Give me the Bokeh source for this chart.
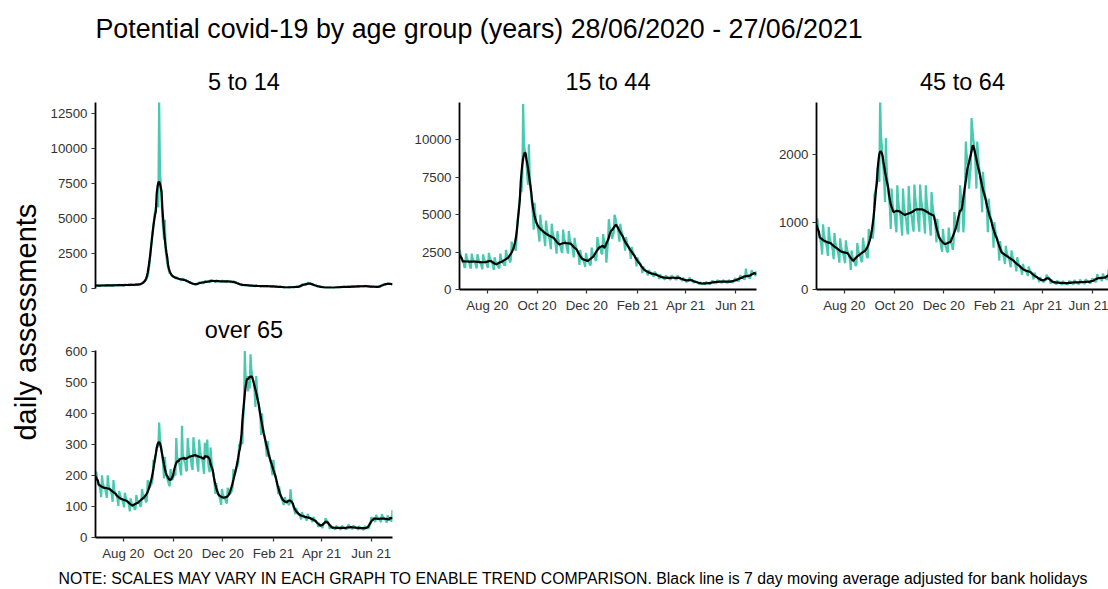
import numpy as np
import pandas as pd
from math import pi
from bokeh.plotting import figure
from bokeh.layouts import column, row
from bokeh.models import Range1d, FixedTicker, Label, ColumnDataSource
from bokeh.embed import file_html
from bokeh.resources import INLINE

# ---------------- data ----------------
START_DATE = "2020-06-28"
END_DATE = "2021-06-27"
TITLE = "Potential covid-19 by age group (years) 28/06/2020 - 27/06/2021"
Y_LABEL = "daily assessments"
NOTE = ("NOTE: SCALES MAY VARY IN EACH GRAPH TO ENABLE TREND COMPARISON. "
        "Black line is 7 day moving average adjusted for bank holidays")
PANEL_TITLES = ["5 to 14", "15 to 44", "45 to 64", "over 65"]
X_TICK_DATES = ["2020-08-01", "2020-10-01", "2020-12-01", "2021-02-01", "2021-04-01", "2021-06-01"]
X_TICK_LABELS = ["Aug 20", "Oct 20", "Dec 20", "Feb 21", "Apr 21", "Jun 21"]
Y_TICKS_5_14 = [0, 2500, 5000, 7500, 10000, 12500]
Y_TICKS_15_44 = [0, 2500, 5000, 7500, 10000]
Y_TICKS_45_64 = [0, 1000, 2000]
Y_TICKS_65 = [0, 100, 200, 300, 400, 500, 600]
Y_MAX = [13270, 12500, 2780, 602]

# daily values, one row per week (Sun..Sat), last value = 27/06/2021
AGE_5_14 = [
    190, 235, 220, 215, 210, 205, 195,
    195, 240, 225, 220, 215, 210, 200,
    200, 245, 230, 225, 220, 215, 205,
    207, 258, 242, 235, 230, 225, 214,
    216, 269, 252, 245, 240, 235, 223,
    225, 280, 263, 255, 250, 245, 232,
    234, 291, 273, 265, 260, 255, 242,
    250, 310, 290, 285, 280, 275, 265,
    320, 380, 400, 440, 480, 540, 620,
    750, 900, 1200, 1700, 2300, 3000, 3500,
    4000, 4500, 5000, 5500, 5800, 6000, 6000,
    5800, 13300, 8500, 7500, 6200, 5000, 4200,
    3500, 4900, 2700, 2200, 1800, 1500, 1250,
    1050, 1100, 950, 900, 850, 820, 780,
    700, 820, 760, 720, 690, 670, 640,
    560, 700, 660, 640, 620, 600, 560,
    500, 560, 480, 440, 420, 400, 380,
    330, 330, 310, 300, 300, 300, 290,
    330, 450, 430, 420, 410, 400, 370,
    420, 540, 510, 490, 480, 470, 440,
    480, 610, 570, 550, 540, 530, 500,
    470, 585, 550, 530, 520, 510, 480,
    460, 570, 540, 520, 510, 500, 470,
    450, 560, 525, 510, 500, 490, 465,
    420, 520, 480, 450, 430, 400, 360,
    320, 340, 310, 290, 270, 230, 250,
    240, 260, 250, 245, 240, 210, 230,
    190, 225, 210, 205, 200, 195, 185,
    162, 202, 189, 184, 180, 176, 167,
    153, 190, 179, 173, 170, 167, 158,
    144, 179, 168, 163, 160, 157, 149,
    126, 157, 147, 143, 140, 137, 130,
    99, 123, 116, 112, 110, 108, 102,
    65, 78, 73, 71, 70, 68, 65,
    81, 101, 95, 92, 90, 88, 84,
    108, 134, 126, 122, 120, 118, 112,
    200, 300, 290, 280, 270, 260, 250,
    320, 420, 380, 360, 350, 340, 310,
    280, 300, 240, 220, 200, 190, 170,
    150, 150, 130, 120, 110, 90, 95,
    70, 55, 65, 60, 58, 56, 55,
    50, 62, 58, 56, 55, 54, 51,
    70, 90, 85, 82, 80, 78, 74,
    99, 123, 116, 112, 110, 108, 102,
    108, 120, 135, 125, 120, 118, 112,
    126, 157, 147, 143, 140, 137, 130,
    144, 179, 168, 163, 160, 157, 149,
    149, 185, 173, 168, 165, 162, 153,
    125, 120, 140, 135, 130, 128, 122,
    108, 134, 126, 122, 120, 118, 112,
    200, 250, 260, 270, 280, 290, 300,
    320, 370, 350, 340, 330, 320, 300,
    290,
]

AGE_15_44 = [
    2650, 2450, 2150, 2000, 1850, 1800, 1500,
    1450, 2400, 2150, 1950, 1850, 1800, 1500,
    1400, 2400, 2100, 1950, 1850, 1800, 1600,
    1400, 2350, 2100, 1900, 1800, 1750, 1550,
    1350, 2350, 2050, 1900, 1800, 1750, 1550,
    1450, 2450, 2150, 2000, 1900, 1800, 1600,
    1300, 2150, 1900, 1750, 1650, 1600, 1450,
    1450, 2400, 2100, 1950, 1800, 1750, 1600,
    1650, 2650, 2350, 2200, 2050, 2000, 1800,
    2000, 3200, 2900, 2800, 2750, 2800, 2600,
    3400, 4600, 5000, 5600, 6200, 6800, 6500,
    7500, 12400, 9800, 9300, 9000, 8600, 7600,
    7000, 9700, 7800, 6900, 6200, 5700, 5000,
    4000, 5800, 5000, 4600, 4300, 4100, 3700,
    3200, 5000, 4400, 4100, 3900, 3700, 3400,
    2900, 4600, 4100, 3800, 3600, 3500, 3100,
    2700, 4400, 3900, 3600, 3400, 3300, 2900,
    2400, 3900, 3400, 3100, 2950, 2850, 2550,
    2450, 4000, 3500, 3250, 3050, 2950, 2650,
    2400, 3900, 3450, 3200, 3000, 2900, 2600,
    2150, 3450, 3000, 2800, 2650, 2550, 2300,
    1650, 2650, 2300, 2150, 2000, 1950, 1750,
    1500, 2450, 2150, 2000, 1850, 1800, 1600,
    1700, 2800, 2450, 2300, 2200, 2100, 1900,
    2200, 3500, 3100, 2900, 2750, 2700, 2400,
    2400, 3700, 3300, 3100, 2900, 1800, 2500,
    3200, 4700, 4200, 4000, 3800, 3400, 3600,
    3800, 5000, 4800, 4500, 4300, 4100, 3700,
    3200, 4400, 4000, 3800, 3600, 3400, 3100,
    2600, 3500, 3200, 3000, 2900, 2800, 2500,
    2050, 2850, 2600, 2450, 2300, 2250, 2000,
    1550, 2150, 1950, 1850, 1750, 1700, 1500,
    1100, 1550, 1400, 1350, 1250, 1250, 1100,
    950, 1300, 1200, 1150, 1050, 1050, 950,
    850, 1200, 1100, 1050, 950, 950, 850,
    700, 1000, 900, 850, 800, 780, 700,
    660, 950, 850, 800, 760, 740, 670,
    680, 950, 860, 820, 770, 750, 680,
    660, 940, 850, 800, 760, 740, 670,
    560, 780, 710, 680, 640, 500, 560,
    540, 600, 800, 700, 640, 600, 540,
    430, 600, 550, 520, 490, 470, 430,
    350, 480, 440, 410, 390, 380, 350,
    360, 510, 460, 430, 410, 400, 360,
    410, 470, 600, 520, 480, 460, 410,
    450, 630, 570, 540, 510, 490, 450,
    450, 630, 570, 540, 510, 490, 450,
    460, 640, 580, 550, 520, 500, 460,
    540, 650, 760, 660, 620, 600, 540,
    680, 960, 870, 820, 770, 750, 680,
    730, 1400, 950, 880, 830, 800, 720,
    900, 1300, 1150, 1100, 1050, 1000, 900,
    1250,
]

AGE_45_64 = [
    1050, 1050, 900, 830, 770, 730, 640,
    520, 970, 830, 760, 700, 670, 590,
    500, 930, 790, 720, 680, 640, 570,
    450, 840, 710, 650, 610, 580, 510,
    400, 760, 640, 590, 550, 520, 460,
    390, 730, 620, 570, 530, 500, 440,
    290, 580, 490, 450, 420, 400, 350,
    370, 690, 590, 540, 500, 470, 420,
    410, 770, 660, 600, 560, 530, 470,
    480, 900, 820, 790, 780, 800, 760,
    900, 1400, 1450, 1500, 1650, 1800, 1750,
    1600, 2850, 2300, 2150, 1900, 1800, 1600,
    1300, 2250, 1800, 1600, 1450, 1350, 1200,
    900, 1500, 1300, 1200, 1150, 1100, 950,
    850, 1550, 1350, 1230, 1150, 1080, 950,
    800, 1500, 1280, 1170, 1090, 1030, 900,
    820, 1540, 1310, 1200, 1120, 1060, 930,
    860, 1560, 1380, 1260, 1180, 1120, 980,
    860, 1560, 1380, 1260, 1180, 1120, 980,
    830, 1550, 1320, 1210, 1130, 1070, 940,
    800, 1450, 1280, 1170, 1090, 1030, 910,
    700, 1050, 880, 800, 740, 700, 620,
    560, 900, 760, 700, 650, 620, 560,
    560, 920, 800, 730, 690, 660, 590,
    700, 1150, 1000, 950, 920, 900, 850,
    1000, 1550, 1400, 1300, 1250, 850, 1050,
    1500, 2200, 2000, 1900, 1800, 1500, 1700,
    1800, 2550, 2400, 2250, 2150, 2050, 1800,
    1500, 2200, 2000, 1850, 1750, 1650, 1450,
    1150, 1750, 1580, 1450, 1380, 1320, 1150,
    850, 1350, 1200, 1100, 1050, 1000, 880,
    620, 1000, 880, 820, 780, 740, 650,
    430, 720, 620, 570, 540, 520, 450,
    380, 650, 560, 510, 480, 460, 400,
    330, 580, 500, 450, 420, 400, 350,
    270, 480, 410, 370, 350, 330, 290,
    220, 380, 330, 300, 280, 270, 240,
    200, 340, 300, 270, 250, 240, 210,
    150, 250, 220, 195, 185, 175, 155,
    110, 185, 160, 145, 138, 110, 120,
    130, 140, 220, 190, 180, 170, 150,
    85, 145, 125, 115, 108, 102, 90,
    75, 135, 115, 105, 98, 93, 82,
    70, 128, 110, 100, 93, 88, 78,
    75, 100, 130, 110, 100, 95, 85,
    78, 142, 120, 110, 103, 98, 86,
    80, 148, 126, 115, 108, 102, 90,
    85, 155, 132, 120, 113, 107, 94,
    100, 120, 165, 145, 135, 128, 112,
    125, 230, 195, 178, 167, 158, 140,
    130, 236, 200, 184, 172, 163, 145,
    160, 297, 253, 231, 216, 205, 180,
    230,
]

AGE_65 = [
    210, 210, 190, 178, 168, 165, 150,
    130, 200, 175, 165, 157, 155, 140,
    128, 200, 170, 160, 152, 150, 136,
    115, 185, 154, 144, 137, 136, 123,
    102, 150, 138, 129, 123, 121, 110,
    97, 144, 130, 122, 116, 114, 104,
    84, 126, 113, 106, 101, 100, 90,
    92, 137, 123, 115, 110, 109, 99,
    105, 156, 141, 132, 125, 124, 113,
    120, 185, 165, 160, 165, 170, 175,
    190, 250, 240, 250, 270, 290, 300,
    290, 370, 320, 300, 280, 260, 230,
    190, 260, 220, 200, 190, 180, 170,
    165, 220, 190, 185, 190, 200, 210,
    200, 320, 260, 250, 240, 235, 215,
    200, 360, 270, 255, 245, 240, 215,
    215, 320, 285, 268, 255, 252, 228,
    217, 323, 292, 273, 260, 257, 233,
    212, 315, 284, 266, 253, 250, 227,
    205, 305, 275, 258, 315, 243, 220,
    210, 290, 250, 230, 210, 195, 170,
    140, 175, 155, 145, 135, 130, 120,
    105, 156, 141, 132, 125, 124, 113,
    110, 160, 145, 140, 140, 145, 150,
    160, 220, 200, 205, 215, 225, 230,
    240, 300, 290, 310, 330, 300, 380,
    420, 600, 510, 500, 520, 470, 500,
    480, 590, 540, 520, 510, 500, 470,
    420, 520, 470, 445, 430, 415, 390,
    330, 400, 360, 340, 325, 315, 290,
    260, 310, 280, 265, 250, 240, 220,
    200, 250, 220, 205, 190, 180, 165,
    140, 165, 145, 135, 125, 120, 110,
    105, 130, 120, 115, 112, 110, 105,
    110, 155, 125, 115, 105, 95, 85,
    75, 95, 85, 80, 75, 72, 66,
    58, 82, 74, 70, 66, 65, 60,
    54, 76, 69, 65, 62, 61, 55,
    50, 66, 60, 56, 53, 50, 45,
    34, 46, 42, 39, 37, 30, 40,
    48, 45, 62, 56, 52, 50, 44,
    27, 40, 35, 33, 31, 30, 28,
    26, 38, 34, 32, 30, 30, 27,
    26, 38, 34, 32, 30, 30, 27,
    28, 30, 42, 36, 33, 32, 29,
    27, 39, 35, 33, 31, 31, 28,
    25, 37, 33, 31, 29, 29, 26,
    25, 37, 33, 31, 30, 30, 30,
    40, 45, 65, 62, 60, 60, 55,
    50, 73, 66, 62, 59, 58, 53,
    50, 75, 67, 63, 60, 59, 54,
    48, 71, 64, 60, 57, 56, 51,
    88,
]

SERIES = [AGE_5_14, AGE_15_44, AGE_45_64, AGE_65]
Y_TICKS = [Y_TICKS_5_14, Y_TICKS_15_44, Y_TICKS_45_64, Y_TICKS_65]

# ---------------- styling ----------------
FONT = "Liberation Sans"
TEAL = "#48C9B0"
TICK_COLOR = "#333333"

dates = pd.date_range(START_DATE, END_DATE, freq="D")
x_ms = dates.values.astype("datetime64[ms]").astype(np.int64).astype(float)
for s in SERIES:
    assert len(s) == len(dates), len(s)


def to_ms(d):
    return float(np.datetime64(d, "ms").astype(np.int64))


def style_axis(ax):
    ax.axis_line_color = "black"
    ax.axis_line_width = 1.8
    ax.major_tick_line_color = TICK_COLOR
    ax.major_tick_line_width = 1.2
    ax.major_tick_out = 4
    ax.major_tick_in = 0
    ax.minor_tick_line_color = None
    ax.major_label_text_font = FONT
    ax.major_label_text_font_size = "13.3px"
    ax.major_label_text_color = TICK_COLOR
    ax.major_label_standoff = 4


def panel(i, width, height, bl, br, bt, bb, show_x=True, frac=1.0):
    vals = SERIES[i]
    ma = pd.Series(vals, dtype=float).rolling(7, center=True, min_periods=4).mean()
    src = ColumnDataSource(dict(x=x_ms, y=np.array(vals, dtype=float), ma=ma.values))
    x0, x1 = x_ms[0], x_ms[-1]
    p = figure(width=width, height=height, output_backend="svg", toolbar_location=None,
               x_range=Range1d(x0, x0 + (x1 - x0) * frac), y_range=Range1d(0, Y_MAX[i]),
               min_border_left=bl, min_border_right=br, min_border_top=bt, min_border_bottom=bb,
               x_axis_location="below" if show_x else None, y_axis_location="left",
               title=PANEL_TITLES[i])
    p.title.align = "center"
    p.title.text_font = FONT
    p.title.text_font_size = "23.5px"
    p.title.text_font_style = "normal"
    p.title.text_color = "black"
    p.title.standoff = 16
    p.outline_line_color = None
    p.xgrid.visible = False
    p.ygrid.visible = False
    p.line("x", "y", source=src, color=TEAL, line_width=2.2)
    p.line("x", "ma", source=src, color="black", line_width=2.2)
    yax = p.yaxis[0]
    yax.ticker = FixedTicker(ticks=Y_TICKS[i])
    style_axis(yax)
    if show_x:
        xax = p.xaxis[0]
        ticks = [to_ms(d) for d in X_TICK_DATES]
        xax.ticker = FixedTicker(ticks=ticks)
        xax.major_label_overrides = {t: lab for t, lab in zip(ticks, X_TICK_LABELS)}
        style_axis(xax)
    return p


def text_fig(width, height):
    f = figure(width=width, height=height, output_backend="svg", toolbar_location=None,
               x_range=Range1d(0, width), y_range=Range1d(height, 0),
               min_border=0, x_axis_location=None, y_axis_location=None)
    f.outline_line_color = None
    f.xgrid.visible = False
    f.ygrid.visible = False
    return f


title_fig = text_fig(1108, 56)
title_fig.add_layout(Label(x=95, y=28, text=TITLE, text_font=FONT, text_font_size="26.8px",
                           text_align="left", text_baseline="middle", text_color="black"))

ylab_fig = text_fig(42, 511)
ylab_fig.add_layout(Label(x=25, y=258, text=Y_LABEL, angle=pi / 2, text_font=FONT,
                          text_font_size="29px", text_align="center", text_baseline="middle",
                          text_color="black"))

p1 = panel(0, 358, 244, 53, 8, 46, 12, show_x=False)
p4 = panel(3, 358, 267, 53, 8, 50, 30)
p2 = panel(1, 370, 263, 59, 14, 46, 30)
p3 = panel(2, 338, 263, 46, 0, 46, 30, frac=292 / 297)

foot_fig = text_fig(1108, 22)
foot_fig.add_layout(Label(x=58, y=11, text=NOTE, text_font=FONT, text_font_size="15.8px",
                          text_align="left", text_baseline="middle", text_color="black"))

layout = column(title_fig, row(ylab_fig, column(p1, p4), p2, p3), foot_fig)

open("out.html", "w").write(file_html(layout, INLINE))
